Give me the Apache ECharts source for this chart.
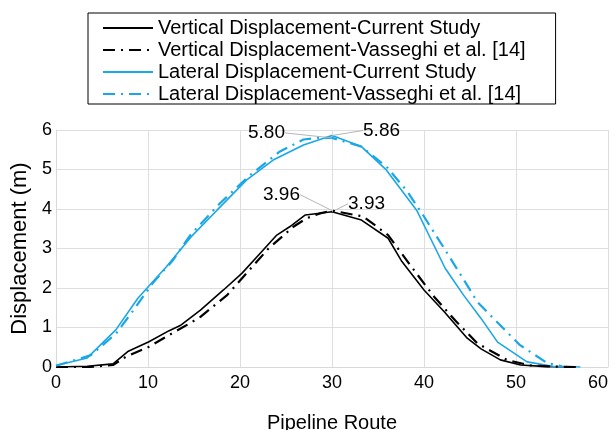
<!DOCTYPE html>
<html>
<head>
<meta charset="utf-8">
<script src="https://cdn.jsdelivr.net/npm/echarts@6/dist/echarts.min.js"></script>
<style>
  html, body { margin: 0; padding: 0; background: #fff; }
  #main { width: 616px; height: 430px; }
</style>
</head>
<body>
<div id="main"></div>
<script>
// values (x = pipeline route, y = displacement in m)
const latCurX = [0, 3.4, 6.5, 8.9, 10.1, 12, 13.5, 14.7, 17.5, 20.7, 23.6, 26.9, 30, 33.2, 35.9, 39.2, 40.7, 42.3, 44.3, 46.2, 48, 51.2, 54, 57];
const latCurY = [0.04, 0.23, 0.94, 1.74, 2.05, 2.54, 2.96, 3.3, 3.97, 4.73, 5.24, 5.62, 5.86, 5.58, 4.99, 3.97, 3.26, 2.5, 1.82, 1.23, 0.63, 0.13, 0.02, 0];

const latVasX = [0, 3.8, 6.5, 8.3, 10.5, 12.7, 14.6, 17.8, 21.1, 24.3, 26.9, 28.5, 30, 33.2, 36, 38.2, 40, 42.2, 44, 45.8, 47.5, 50.4, 53.4, 55];
const latVasY = [0.03, 0.3, 0.84, 1.4, 2.12, 2.7, 3.34, 4.14, 4.86, 5.45, 5.76, 5.8, 5.8, 5.58, 5.05, 4.44, 3.81, 3.0, 2.33, 1.65, 1.24, 0.56, 0.1, 0.02];

const vertCurX = [0, 3.4, 6.2, 7.8, 10.1, 12.3, 13.5, 15.7, 18.2, 20.2, 22.2, 24, 25.4, 27.1, 30, 33.2, 36.1, 37.6, 40, 42.2, 44.7, 46.2, 48.3, 50.5, 53.3, 56];
const vertCurY = [0, 0.02, 0.08, 0.39, 0.64, 0.92, 1.05, 1.44, 1.95, 2.37, 2.88, 3.34, 3.55, 3.85, 3.93, 3.72, 3.26, 2.67, 1.95, 1.4, 0.73, 0.46, 0.18, 0.05, 0.01, 0];

const vertVasX = [0, 3.6, 6.2, 7.6, 10.1, 12, 14.5, 15.7, 18.6, 20.7, 23.1, 25.8, 27.2, 28.7, 30, 33.4, 36.1, 38.5, 41.1, 43.5, 45.8, 49, 51.5, 54, 56.6];
const vertVasY = [0, 0, 0.05, 0.26, 0.51, 0.77, 1.1, 1.27, 1.82, 2.37, 3.0, 3.55, 3.76, 3.89, 3.96, 3.81, 3.34, 2.58, 1.78, 1.15, 0.6, 0.18, 0.04, 0.01, 0];

const seriesNames = [
  'Vertical Displacement-Current Study',
  'Vertical Displacement-Vasseghi et al. [14]',
  'Lateral Displacement-Current Study',
  'Lateral Displacement-Vasseghi et al. [14]',
];

const FONT = '"Liberation Sans", Arial, sans-serif';
const BLUE = '#1aa7e6';
const DASH_DOT = [12, 6, 2, 6];

// peak annotation: the point at x = 30 gets a moved label with a grey leader
function toData(xs, ys, peakText, side) {
  return xs.map((x, i) => {
    if (x !== 30) return [x, ys[i]];
    return {
      value: [x, ys[i]],
      symbol: 'circle',
      symbolSize: 0.1,
      itemStyle: { color: 'transparent' },
      label: {
        show: true,
        position: side,
        distance: 5,
        formatter: peakText,
        color: '#000',
        fontSize: 19,
        fontFamily: FONT,
      },
      labelLine: { show: true, lineStyle: { color: '#b5b5b5', width: 1 } },
    };
  });
}

function makeSeries(name, xs, ys, color, dashed, peakText, side, shift) {
  return {
    name,
    type: 'line',
    symbol: 'none',
    data: toData(xs, ys, peakText, side),
    lineStyle: { color, width: dashed ? 2.2 : 1.6, type: dashed ? DASH_DOT : 'solid' },
    itemStyle: { color },
    labelLayout: shift,
    z: dashed ? 3 : 2,
  };
}

const chart = echarts.init(document.getElementById('main'));
chart.setOption({
  animation: false,
  textStyle: { fontFamily: FONT },
  legend: {
    orient: 'vertical',
    left: 88,
    top: 13,
    data: seriesNames,
    itemWidth: 50,
    itemHeight: 14,
    itemGap: 2,
    padding: [5, 30, 0, 14],
    borderColor: '#000',
    borderWidth: 1,
    itemStyle: { opacity: 0 },
    textStyle: { fontSize: 20, color: '#000', fontFamily: FONT },
  },
  grid: { left: 56, right: 8, top: 130, bottom: 63, outerBoundsMode: 'none', containLabel: false },
  xAxis: {
    type: 'value',
    min: 0,
    max: 60,
    interval: 10,
    name: 'Pipeline Route',
    nameLocation: 'middle',
    nameGap: 46,
    nameTextStyle: { fontSize: 20, color: '#000' },
    axisLine: { show: true, lineStyle: { color: '#d9d9d9' } },
    axisTick: { show: false },
    axisLabel: { fontSize: 18, color: '#000', margin: 7, alignMaxLabel: 'right' },
    splitLine: { show: true, lineStyle: { color: '#dedede' } },
  },
  yAxis: {
    type: 'value',
    min: 0,
    max: 6,
    interval: 1,
    name: 'Displacement (m)',
    nameLocation: 'middle',
    nameGap: 25,
    nameTextStyle: { fontSize: 22, color: '#000' },
    axisLine: { show: true, lineStyle: { color: '#d9d9d9' } },
    axisTick: { show: false },
    axisLabel: { fontSize: 18, color: '#000', margin: 4 },
    splitLine: { show: true, lineStyle: { color: '#dedede' } },
  },
  series: [
    makeSeries(seriesNames[0], vertCurX, vertCurY, '#000', false, '3.93', 'right', { dx: 11, dy: -8 }),
    makeSeries(seriesNames[1], vertVasX, vertVasY, '#000', true, '3.96', 'left', { dx: -27, dy: -16 }),
    makeSeries(seriesNames[2], latCurX, latCurY, BLUE, false, '5.86', 'right', { dx: 26, dy: -5 }),
    makeSeries(seriesNames[3], latVasX, latVasY, BLUE, true, '5.80', 'left', { dx: -42, dy: -5 }),
  ],
});
</script>
</body>
</html>
